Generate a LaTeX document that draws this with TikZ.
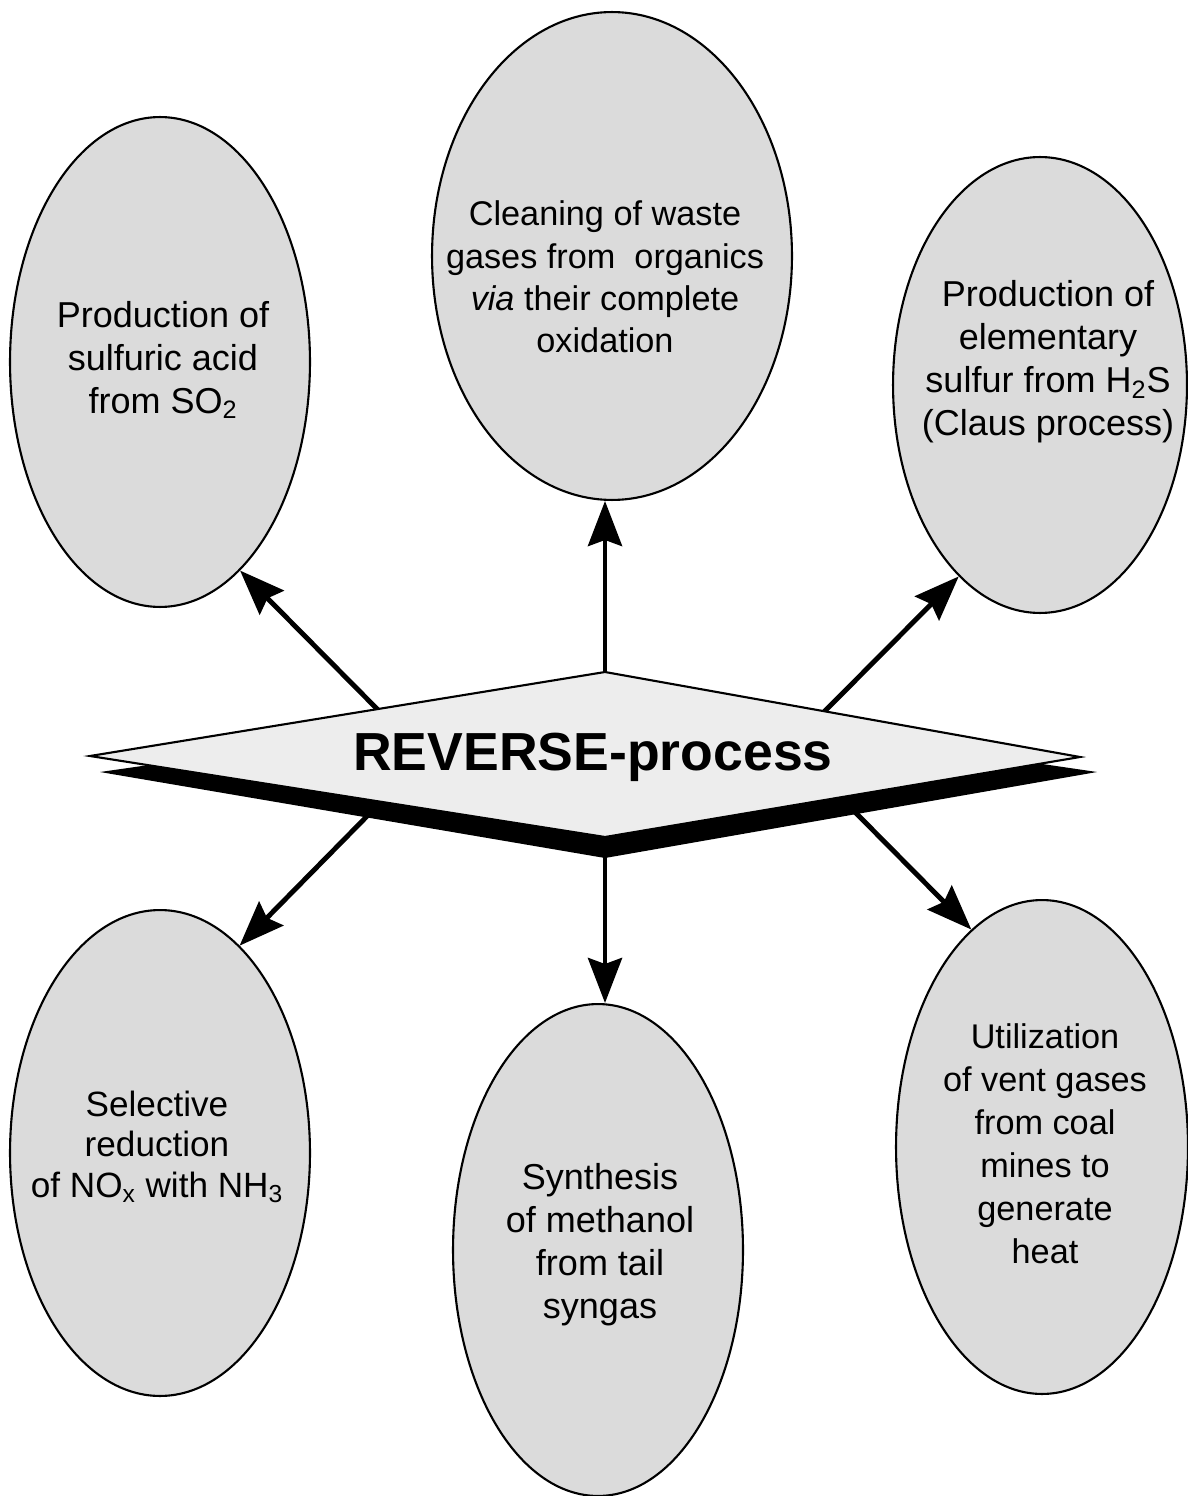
\documentclass[tikz,border=0pt]{standalone}
\usepackage{fontspec}
\setmainfont{Liberation Sans}
\usetikzlibrary{shapes.geometric,arrows.meta}
\tikzset{bubble/.style={ellipse,draw,line width=1.2pt,fill=black!14,inner sep=0pt},
  bubble text/.style={align=center,font=\fontsize{20.5}{24.5}\selectfont},
  link/.style={line width=2.8pt,-{Stealth[length=0.9cm,width=0.68cm,inset=0.12cm]}}}

\begin{document}
\begin{tikzpicture}[x=0.02cm,y=-0.02cm]
  \useasboundingbox (0,0) rectangle (1187,1496);

  % the six applications
  \node[bubble,minimum width=6cm,minimum height=9.8cm] (A) at (160,362) {};
  \node[bubble,minimum width=7.2cm,minimum height=9.76cm] (B) at (612,256) {};
  \node[bubble,minimum width=5.88cm,minimum height=9.12cm] (C) at (1040,385) {};
  \node[bubble,minimum width=6cm,minimum height=9.72cm] (D) at (160,1153) {};
  \node[bubble,minimum width=5.8cm,minimum height=9.84cm] (E) at (598,1250) {};
  \node[bubble,minimum width=5.84cm,minimum height=9.88cm] (F) at (1042,1147) {};

  \node[bubble text] (tA) at (163,360) {Production of\\sulfuric acid\\from SO\textsubscript{2}};
  \node[bubble text,font=\fontsize{19.5}{24}\selectfont] (tB) at (605,277) {Cleaning of waste\\gases from~ organics\\\textit{via} their complete\\oxidation};
  \node[bubble text] (tC) at (1048,362) {Production of\\elementary\\sulfur from H\textsubscript{2}S\\(Claus process)};
  \node[bubble text,font=\fontsize{20}{23}\selectfont] (tD) at (157,1147) {Selective\\reduction\\of NO\textsubscript{x} with NH\textsubscript{3}};
  \node[bubble text] (tE) at (600,1245) {Synthesis\\of methanol\\from tail\\syngas};
  \node[bubble text,font=\fontsize{19.5}{24.5}\selectfont] (tF) at (1045,1144) {Utilization\\of vent gases\\from coal\\mines to\\generate\\heat};

  % arrows leave the centre piece
  \coordinate (sA) at (390,722);
  \coordinate (sB) at (605,690);
  \coordinate (sC) at (812,724);
  \coordinate (sD) at (380,803);
  \coordinate (sE) at (605,830);
  \coordinate (sF) at (848,805);

  \draw[link] (sA) -- (A.-69);
  \draw[link] (sB) -- (sB |- B.south);
  \draw[link] (sC) -- (C.-113);
  \draw[link] (sD) -- (D.69);
  \draw[link] (sE) -- (sE |- E.north);
  \draw[link] (sF) -- (F.108);

  % centre piece with its shadow
  \fill (100,772) -- (605,700) -- (1097,772) -- (605,858) -- cycle;
  \filldraw[fill=black!7,line width=1.2pt] (90,756) -- (605,672) -- (1080,757) -- (605,837) -- cycle;
  \node[font=\fontsize{30.5}{31}\bfseries\selectfont] (rev) at (593,757) {REVERSE-process};
\end{tikzpicture}
\end{document}
